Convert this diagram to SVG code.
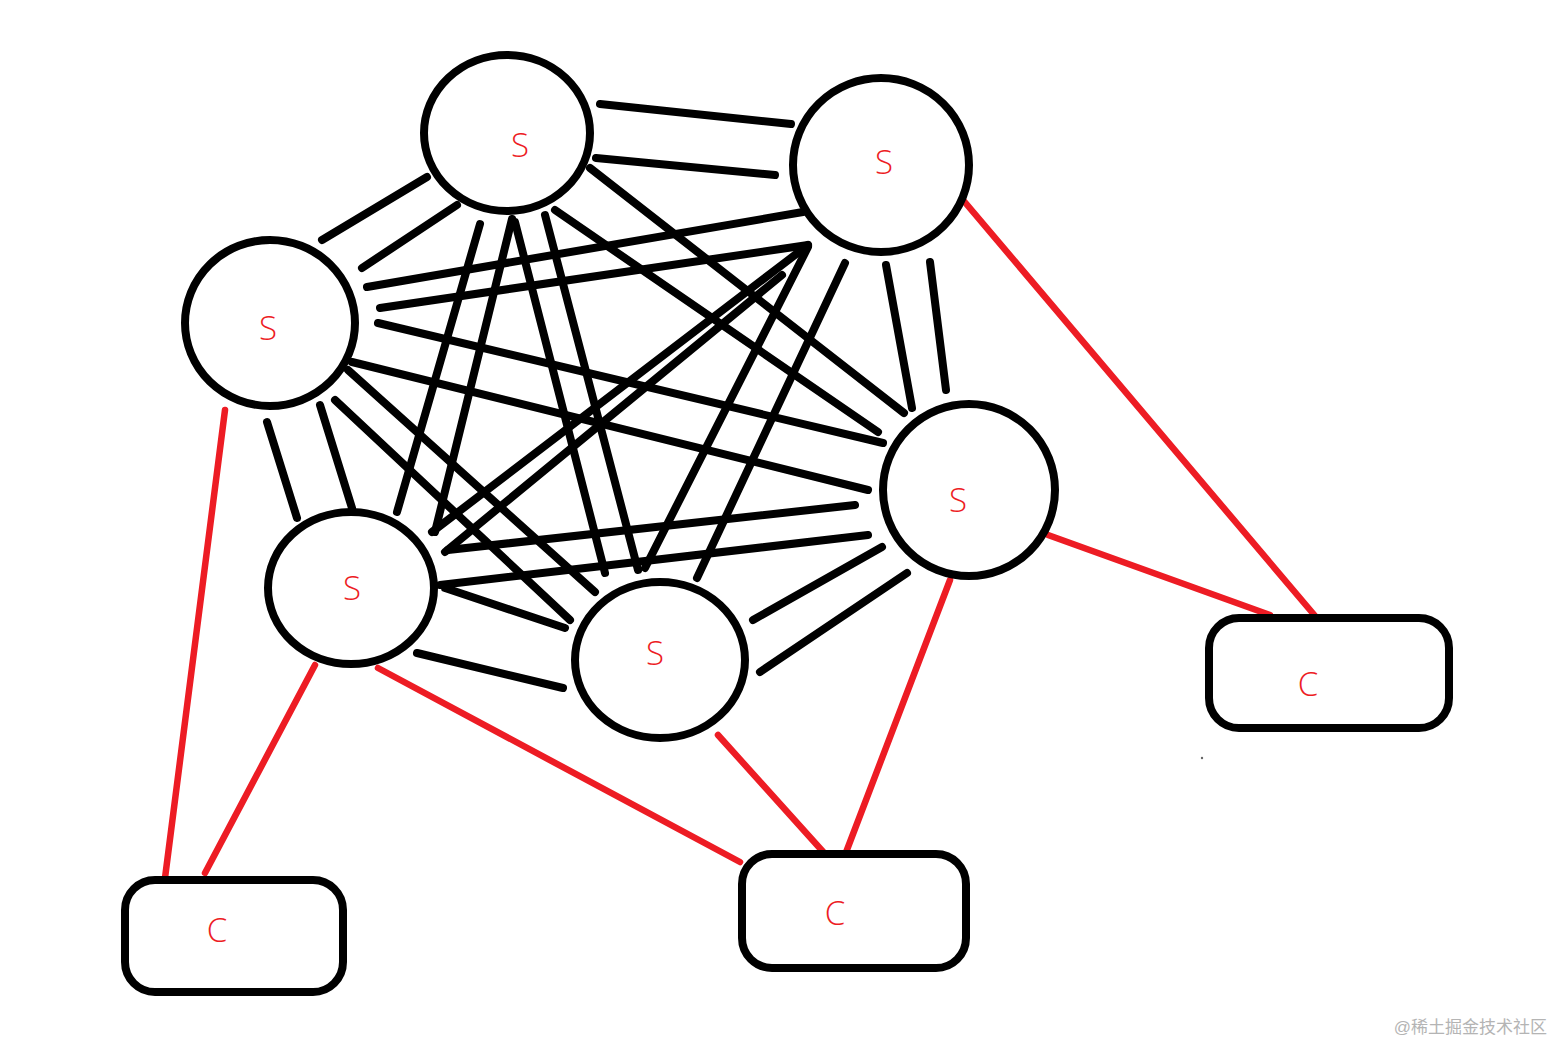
<svg xmlns="http://www.w3.org/2000/svg" width="1556" height="1042" viewBox="0 0 1556 1042">
<style>
.s{fill:#fff;stroke:#000;stroke-width:8}
.c{fill:#fff;stroke:#000;stroke-width:8}
.b line{stroke:#000;stroke-width:8;stroke-linecap:round}
.r line{stroke:#ed1c24;stroke-width:6.5;stroke-linecap:round}
.t{font-family:"Open Sans","Noto Sans","DejaVu Sans",sans-serif;font-size:33px;font-weight:300;fill:#ed1c24;text-anchor:middle}
.w{font-family:"Liberation Sans","Noto Sans CJK SC",sans-serif;font-size:17px;fill:#b4b4b4;text-anchor:end}
</style>
<rect width="1556" height="1042" fill="#fff"/>
<g id="connectors">
<g class="b">
<line x1="600" y1="104" x2="791" y2="124"/>
<line x1="596" y1="158" x2="775" y2="175"/>
<line x1="322" y1="240" x2="427" y2="177"/>
<line x1="362" y1="268" x2="457" y2="205"/>
<line x1="480" y1="224" x2="397" y2="512"/>
<line x1="512" y1="219" x2="435" y2="532"/>
<line x1="515" y1="222" x2="605" y2="573"/>
<line x1="545" y1="215" x2="638" y2="570"/>
<line x1="590" y1="168" x2="904" y2="413"/>
<line x1="555" y1="210" x2="878" y2="432"/>
<line x1="367" y1="287" x2="803" y2="212"/>
<line x1="380" y1="308" x2="808" y2="245"/>
<line x1="886" y1="265" x2="912" y2="408"/>
<line x1="930" y1="262" x2="946" y2="390"/>
<line x1="432" y1="532" x2="808" y2="245"/>
<line x1="445" y1="552" x2="782" y2="275"/>
<line x1="808" y1="247" x2="645" y2="568"/>
<line x1="845" y1="263" x2="697" y2="578"/>
<line x1="378" y1="323" x2="883" y2="443"/>
<line x1="352" y1="362" x2="868" y2="490"/>
<line x1="267" y1="422" x2="297" y2="518"/>
<line x1="320" y1="405" x2="352" y2="508"/>
<line x1="348" y1="370" x2="595" y2="592"/>
<line x1="335" y1="400" x2="570" y2="620"/>
<line x1="448" y1="550" x2="855" y2="505"/>
<line x1="440" y1="585" x2="868" y2="535"/>
<line x1="753" y1="620" x2="882" y2="547"/>
<line x1="760" y1="672" x2="907" y2="573"/>
<line x1="445" y1="588" x2="565" y2="628"/>
<line x1="417" y1="653" x2="563" y2="688"/>
</g>
<g class="r">
<line x1="963" y1="200" x2="1316" y2="617"/>
<line x1="1048" y1="535" x2="1270" y2="615"/>
<line x1="950" y1="580" x2="845" y2="855"/>
<line x1="718" y1="735" x2="826" y2="855"/>
<line x1="378" y1="668" x2="740" y2="862"/>
<line x1="315" y1="665" x2="205" y2="873"/>
<line x1="225" y1="410" x2="165" y2="878"/>
</g>
</g>
<g id="s1"><ellipse class="s" cx="507" cy="133" rx="83" ry="78"/><text class="t" x="520" y="157">S</text></g>
<g id="s2"><ellipse class="s" cx="881" cy="165" rx="88" ry="87"/><text class="t" x="884" y="174">S</text></g>
<g id="s3"><ellipse class="s" cx="270" cy="323" rx="85" ry="83"/><text class="t" x="268" y="340">S</text></g>
<g id="s4"><ellipse class="s" cx="969" cy="490" rx="86" ry="86"/><text class="t" x="958" y="512">S</text></g>
<g id="s5"><ellipse class="s" cx="351" cy="588" rx="83" ry="76"/><text class="t" x="352" y="600">S</text></g>
<g id="s6"><ellipse class="s" cx="660" cy="660" rx="85" ry="78"/><text class="t" x="655" y="665">S</text></g>
<g id="c1"><rect class="c" x="1209" y="618" width="240" height="110" rx="30"/><text class="t" x="1308" y="696">C</text></g>
<g id="c2"><rect class="c" x="742" y="854" width="224" height="114" rx="30"/><text class="t" x="835" y="925">C</text></g>
<g id="c3"><rect class="c" x="125" y="880" width="218" height="112" rx="30"/><text class="t" x="217" y="942">C</text></g>
<circle cx="1202" cy="758" r="1.2" fill="#666"/>
<text class="w" x="1547" y="1033">@稀土掘金技术社区</text>
</svg>
